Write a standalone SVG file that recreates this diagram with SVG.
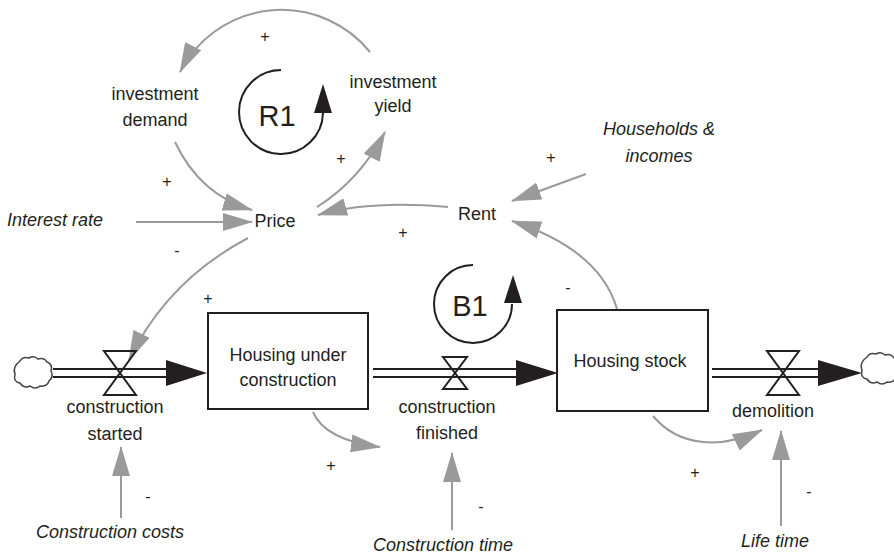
<svg xmlns="http://www.w3.org/2000/svg" xmlns:xlink="http://www.w3.org/1999/xlink" width="894" height="556" viewBox="0 0 894 556">
<style>
text{font-family:"Liberation Sans",Arial,sans-serif;font-size:18px;fill:#231f20;text-anchor:middle}
.it{font-style:italic}
.sg{font-size:16px}
.loop{font-size:29px}
.stock{fill:#fff;stroke:#231f20;stroke-width:2}
.pipe{stroke:#231f20;stroke-width:2;fill:none}
.valve{fill:none;stroke:#231f20;stroke-width:2;stroke-linejoin:miter}
.flowhead{fill:#231f20}
.link{fill:none;stroke:#9a9a9a;stroke-width:2;marker-end:url(#ah)}
.ring{fill:none;stroke:#231f20;stroke-width:2}
.cloud{fill:#fff;stroke:#444;stroke-width:1.5}
</style>
<defs>
<marker id="ah" viewBox="0 0 30 18" refX="29" refY="9" markerWidth="30" markerHeight="18" markerUnits="userSpaceOnUse" orient="auto">
<path d="M0,0 L30,9 L0,18 z" fill="#9a9a9a"/>
</marker>
<path id="cloudshape" d="M20 361 q3 -5 9 -3 q5 -3 9 1 q6 -2 9 3 q6 2 4 9 q3 6 -2 10 q-2 6 -9 5 q-5 4 -10 0 q-6 3 -10 -3 q-7 -1 -5 -9 q-3 -7 5 -13 z"/>
</defs>

<g id="connectors">
<path class="link" d="M370 52 A114 114 0 0 0 180 72"/>
<path class="link" d="M175 142 Q200 195 252 210"/>
<path class="link" d="M136 222 L252 222"/>
<path class="link" d="M317 207 Q360 180 385 132"/>
<path class="link" d="M448 207 Q370 200 318 215"/>
<path class="link" d="M586 174 L512 201"/>
<path class="link" d="M617 309 Q600 250 512 221"/>
<path class="link" d="M248 238 Q167 281 129 360"/>
<path class="link" d="M313 412 Q325 440 380 447"/>
<path class="link" d="M653 416 C678 446 720 450 762 430"/>
<path class="link" d="M121 518 L121 447"/>
<path class="link" d="M452 530 L452 453"/>
<path class="link" d="M781 526 L781 431"/>
</g>

<g id="flows">
<g id="flow-construction-started">
<path class="pipe" d="M53 369 H167 M53 377 H167"/>
<polygon class="flowhead" points="166,360 207,373 166,386"/>
<path class="valve" d="M104 351 H136 L104 395 H136 Z"/>
</g>
<g id="flow-construction-finished">
<path class="pipe" d="M373 369 H517 M373 377 H517"/>
<polygon class="flowhead" points="516,360 558,373 516,386"/>
<path class="valve" d="M443 357 H467 L443 389 H467 Z"/>
</g>
<g id="flow-demolition">
<path class="pipe" d="M712 369 H819 M712 377 H819"/>
<polygon class="flowhead" points="818,360 862,373 818,386"/>
<path class="valve" d="M767 351 H799 L767 395 H799 Z"/>
</g>
</g>

<g id="cloud-source"><use xlink:href="#cloudshape" class="cloud"/></g>
<g id="cloud-sink"><use xlink:href="#cloudshape" class="cloud" transform="translate(847,-4)"/></g>

<g id="housing-under-construction">
<rect class="stock" x="208" y="313" width="160" height="96"/>
<text x="288" y="361">Housing under</text>
<text x="288" y="386">construction</text>
</g>
<g id="housing-stock">
<rect class="stock" x="557" y="310" width="151" height="101"/>
<text x="630" y="367">Housing stock</text>
</g>

<g id="construction-started"><text x="115" y="413">construction</text><text x="115" y="440">started</text></g>
<g id="construction-finished"><text x="447" y="413">construction</text><text x="447" y="439">finished</text></g>
<g id="demolition"><text x="773" y="417">demolition</text></g>
<g id="investment-demand"><text x="155" y="100">investment</text><text x="155" y="126">demand</text></g>
<g id="investment-yield"><text x="393" y="88">investment</text><text x="393" y="112">yield</text></g>
<g id="interest-rate"><text class="it" x="7" y="226" style="text-anchor:start">Interest rate</text></g>
<g id="price"><text x="275" y="227">Price</text></g>
<g id="rent"><text x="477" y="220">Rent</text></g>
<g id="households"><text class="it" x="659" y="135">Households &amp;</text><text class="it" x="659" y="162">incomes</text></g>
<g id="construction-costs"><text class="it" x="110" y="538">Construction costs</text></g>
<g id="construction-time"><text class="it" x="443" y="551">Construction time</text></g>
<g id="life-time"><text class="it" x="775" y="547">Life time</text></g>

<g id="loop-R1">
<path class="ring" d="M281 70 A42 42 0 1 0 323 113"/>
<polygon class="flowhead" points="314,113 332,113 323,84"/>
<text class="loop" x="277" y="126">R1</text>
</g>
<g id="loop-B1">
<path class="ring" d="M473 265 A39 39 0 1 0 512 304"/>
<polygon class="flowhead" points="504,303 522,303 513,275"/>
<text class="loop" x="470" y="316">B1</text>
</g>

<g id="polarities">
<text class="sg" x="265" y="42">+</text>
<text class="sg" x="167" y="187">+</text>
<text class="sg" x="341" y="164">+</text>
<text class="sg" x="551" y="163">+</text>
<text class="sg" x="403" y="238">+</text>
<text class="sg" x="177" y="256">-</text>
<text class="sg" x="208" y="304">+</text>
<text class="sg" x="568" y="293">-</text>
<text class="sg" x="331" y="471">+</text>
<text class="sg" x="481" y="512">-</text>
<text class="sg" x="148" y="502">-</text>
<text class="sg" x="695" y="478">+</text>
<text class="sg" x="809" y="497">-</text>
</g>
</svg>
